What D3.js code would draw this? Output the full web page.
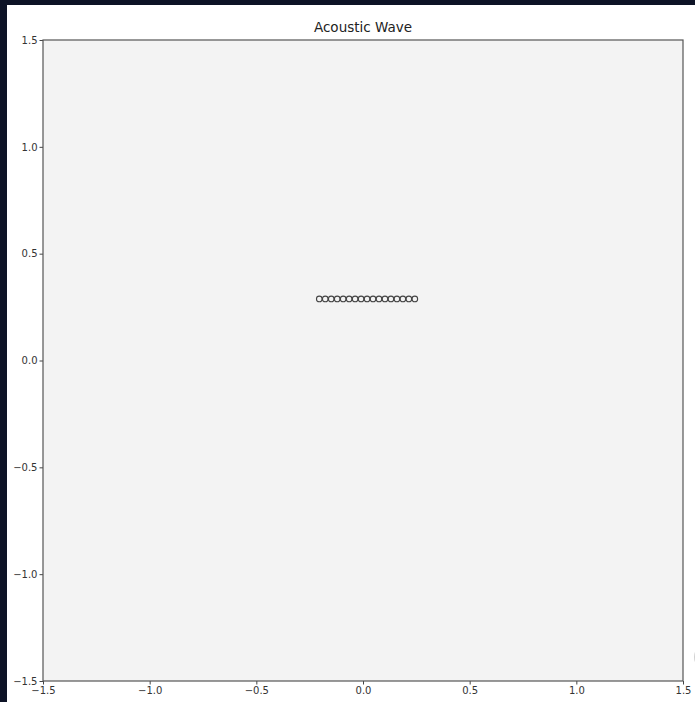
<!DOCTYPE html>
<html>
<head>
<meta charset="utf-8">
<script src="https://cdn.jsdelivr.net/npm/d3@7"></script>
<style>
  html, body { margin: 0; padding: 0; background: #0d1326; }
  svg { display: block; }
  .tick text { font-family: "DejaVu Sans", sans-serif; font-size: 10px; fill: #333; }
</style>
</head>
<body>
<script>
// axis ticks
const xTicks = [-1.5, -1.0, -0.5, 0.0, 0.5, 1.0, 1.5];
const yTicks = [-1.5, -1.0, -0.5, 0.0, 0.5, 1.0, 1.5];

// source points
const pointX = [-0.205, -0.177, -0.149, -0.121, -0.093, -0.065, -0.037, -0.009, 0.019,
                0.047, 0.075, 0.103, 0.131, 0.159, 0.187, 0.215, 0.243];
const pointY = 0.288;

const width = 695,
    height = 702;

const margin = { left: 43, top: 40, right: 12, bottom: 21 };

const svg = d3.select('body')
    .append('svg')
    .attr('width', width)
    .attr('height', height);

// figure background
svg.append('rect')
    .attr('x', 7)
    .attr('y', 5)
    .attr('width', width - 7)
    .attr('height', height - 5)
    .attr('fill', '#ffffff');

const x = d3.scaleLinear()
    .domain([-1.5, 1.5])
    .range([margin.left, width - margin.right]);

const y = d3.scaleLinear()
    .domain([-1.5, 1.5])
    .range([height - margin.bottom, margin.top]);

// axes background
svg.append('rect')
    .attr('x', x(-1.5))
    .attr('y', y(1.5))
    .attr('width', x(1.5) - x(-1.5))
    .attr('height', y(-1.5) - y(1.5))
    .attr('fill', '#f3f3f3');

const fmt = d => d3.format('.1f')(d).replace('-', '\u2212');

svg.append('g')
    .attr('transform', 'translate(0,' + y(-1.5) + ')')
    .call(d3.axisBottom(x).tickValues(xTicks).tickFormat(fmt).tickSize(3.5).tickPadding(2))
    .call(g => g.select('.domain').remove())
    .call(g => g.selectAll('.tick line').attr('stroke', '#444'));

svg.append('g')
    .attr('transform', 'translate(' + x(-1.5) + ',0)')
    .call(d3.axisLeft(y).tickValues(yTicks).tickFormat(fmt).tickSize(3.5).tickPadding(2))
    .call(g => g.select('.domain').remove())
    .call(g => g.selectAll('.tick line').attr('stroke', '#444'));

// spines
svg.append('rect')
    .attr('x', x(-1.5))
    .attr('y', y(1.5))
    .attr('width', x(1.5) - x(-1.5))
    .attr('height', y(-1.5) - y(1.5))
    .attr('fill', 'none')
    .attr('stroke', '#555')
    .attr('stroke-width', 1.2);

svg.append('g')
    .selectAll('circle')
    .data(pointX)
    .enter()
    .append('circle')
    .attr('cx', d => x(d))
    .attr('cy', y(pointY))
    .attr('r', 2.8)
    .attr('fill', 'none')
    .attr('stroke', '#444')
    .attr('stroke-width', 1.1);

svg.append('text')
    .attr('x', (x(-1.5) + x(1.5)) / 2)
    .attr('y', y(1.5) - 8)
    .attr('text-anchor', 'middle')
    .style('font-family', '"DejaVu Sans", sans-serif')
    .style('font-size', '13.5px')
    .style('fill', '#222')
    .text('Acoustic Wave');

// partially hidden control at right edge
svg.append('circle')
    .attr('cx', 708)
    .attr('cy', 657)
    .attr('r', 13)
    .attr('fill', 'none')
    .attr('stroke', '#d0d0d0')
    .attr('stroke-width', 2);
</script>
</body>
</html>
